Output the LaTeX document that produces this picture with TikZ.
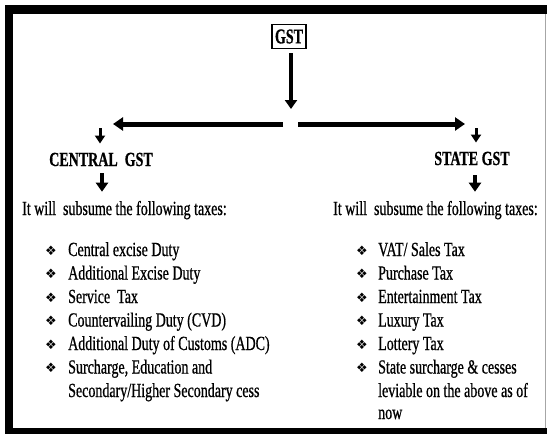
\documentclass[tikz,border=0pt]{standalone}
\usepackage{fontspec}
\setmainfont[FakeStretch=0.7,FakeBold=0.7]{Liberation Serif}
\newfontfamily\symfont{DejaVu Sans}
\usetikzlibrary{arrows.meta}
\begin{document}
\begin{tikzpicture}[x=1pt,y=-1pt,
  txt/.style={anchor=base west, inner sep=0pt, font=\fontsize{20}{22}\selectfont},
  ttl/.style={anchor=base, inner sep=0pt, font=\bfseries\fontsize{20}{22}\selectfont},
  bul/.style={anchor=center, inner sep=0pt, font=\symfont\fontsize{13}{14}\selectfont},
  varr/.style={line width=4pt, -{Triangle[width=12pt,length=9pt]}},
  harr/.style={line width=5pt, -{Triangle[width=13pt,length=10pt]}},
  sarr/.style={line width=3pt, -{Triangle[width=10pt,length=8pt]}}]
\useasboundingbox (0,0) rectangle (547,434);
% frame
\fill[black] (5,5) rectangle (547,14);
\fill[black] (5,5) rectangle (13,434);
\fill[black] (5,428) rectangle (547,434);
\draw[black!35, line width=0.8pt] (545,14) -- (545,428);
% top
\node[draw, line width=1.2pt, inner sep=1pt, minimum height=24pt, minimum width=34pt,
      font=\bfseries\fontsize{21}{22}\selectfont] (gst) at (289,36.5) {\scalebox{0.95}[1]{GST}};
\coordinate (split) at (291,124);
\coordinate (lt) at (113,124);
\coordinate (rt) at (465,124);
\draw[varr, shorten <=4pt, shorten >=15pt] (gst.south -| split) -- (split);
\draw[harr, shorten <=8pt] (split) -- (lt);
\draw[harr, shorten <=7pt] (split) -- (rt);
% headings
\node[ttl] (central) at (101,166) {CENTRAL\ \ GST};
\node[ttl] (state) at (472,165) {STATE GST};
\coordinate (ls) at (100,128);
\coordinate (rs) at (476,128);
\draw[sarr, shorten >=9pt] (ls) -- (ls |- central.north);
\draw[sarr, shorten >=9pt] (rs) -- (rs |- state.north);
% sentences
\node[txt] (lsent) at (22,215) {It will\ \ subsume the following taxes:};
\node[txt] (rsent) at (333,215) {It will\ \ subsume the following taxes:};
\coordinate (lda) at (102,166);
\coordinate (rda) at (475,166);
\draw[varr, shorten <=7pt, shorten >=9pt] (lda) -- (lda |- lsent.north);
\draw[varr, shorten <=9pt, shorten >=9pt] (rda) -- (rda |- rsent.north);
% left list
\node[bul] (lb1) at (51,250.5) {❖};
\node[txt] (l1) at (68,256) {Central excise Duty};
\node[bul] (lb2) at (51,274) {❖};
\node[txt] (l2) at (68,279.5) {Additional Excise Duty};
\node[bul] (lb3) at (51,297.5) {❖};
\node[txt] (l3) at (68,303) {Service\ \ Tax};
\node[bul] (lb4) at (51,321) {❖};
\node[txt] (l4) at (68,326.5) {Countervailing Duty (CVD)};
\node[bul] (lb5) at (51,344.5) {❖};
\node[txt] (l5) at (68,350) {Additional Duty of Customs (ADC)};
\node[bul] (lb6) at (51,368) {❖};
\node[txt] (l6) at (68,373.5) {Surcharge, Education and};
\node[txt] (l7) at (68,397) {Secondary/Higher Secondary cess};
% right list
\node[bul] (rb1) at (362,250.5) {❖};
\node[txt] (r1) at (378,256) {VAT/ Sales Tax};
\node[bul] (rb2) at (362,274) {❖};
\node[txt] (r2) at (378,279.5) {Purchase Tax};
\node[bul] (rb3) at (362,297.5) {❖};
\node[txt] (r3) at (378,303) {Entertainment Tax};
\node[bul] (rb4) at (362,321) {❖};
\node[txt] (r4) at (378,326.5) {Luxury Tax};
\node[bul] (rb5) at (362,344.5) {❖};
\node[txt] (r5) at (378,350) {Lottery Tax};
\node[bul] (rb6) at (362,368) {❖};
\node[txt] (r6) at (378,373.5) {State surcharge \& cesses};
\node[txt] (r7) at (378,397) {leviable on the above as of};
\node[txt] (r8) at (378,419) {now};
\end{tikzpicture}
\end{document}
